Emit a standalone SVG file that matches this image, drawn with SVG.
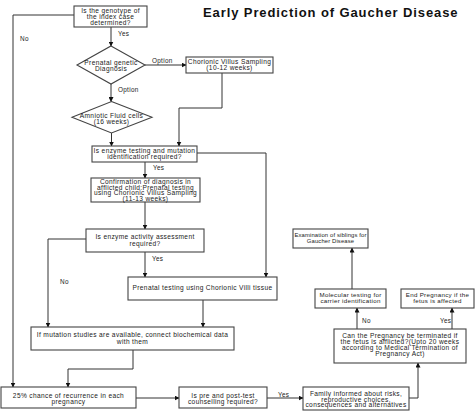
<svg xmlns="http://www.w3.org/2000/svg" width="476" height="411" viewBox="0 0 476 411">
<style>
.box{fill:#fff;stroke:#444;stroke-width:1.1}
.t{font-family:"Liberation Sans",Arial,sans-serif;font-size:6.6px;letter-spacing:0.35px;fill:#222;text-anchor:middle}
.ts{font-size:6.2px;letter-spacing:0.3px}
.tx{font-size:5.9px;letter-spacing:0.12px}
.lbl{font-family:"Liberation Sans",Arial,sans-serif;font-size:6.4px;letter-spacing:0.3px;fill:#222}
.title{font-family:"Liberation Sans",Arial,sans-serif;font-size:13px;font-weight:bold;letter-spacing:0.9px;fill:#111}
.c{fill:none;stroke:#333;stroke-width:1}
</style>
<defs>
<marker id="ah" markerWidth="5" markerHeight="5" refX="4.5" refY="2.5" orient="auto" markerUnits="userSpaceOnUse">
<path d="M0,0 L5,2.5 L0,5 Z" fill="#111"/>
</marker>
</defs>
<rect width="476" height="411" fill="#fff"/>
<text class="title" x="203" y="17">Early Prediction of Gaucher Disease</text>

<g id="connectors">
<path class="c" d="M74,15 H13 V387" marker-end="url(#ah)"/>
<path class="c" d="M111,27 V46" marker-end="url(#ah)"/>
<path class="c" d="M145,65 H186" marker-end="url(#ah)"/>
<path class="c" d="M111,84 V101.5" marker-end="url(#ah)"/>
<path class="c" d="M222,73 V108 H179 V146" marker-end="url(#ah)"/>
<path class="c" d="M111.5,133 V146" marker-end="url(#ah)"/>
<path class="c" d="M197,153 H266 V277" marker-end="url(#ah)"/>
<path class="c" d="M145,162 V178" marker-end="url(#ah)"/>
<path class="c" d="M145,202 V229" marker-end="url(#ah)"/>
<path class="c" d="M86,239 H48 V327" marker-end="url(#ah)"/>
<path class="c" d="M145,252 V277" marker-end="url(#ah)"/>
<path class="c" d="M203,300 V327" marker-end="url(#ah)"/>
<path class="c" d="M133,350 V369 H68 V387" marker-end="url(#ah)"/>
<path class="c" d="M136,398 H179" marker-end="url(#ah)"/>
<path class="c" d="M267,398 H303" marker-end="url(#ah)"/>
<path class="c" d="M409,398 H418 V363" marker-end="url(#ah)"/>
<path class="c" d="M357,329 V308" marker-end="url(#ah)"/>
<path class="c" d="M452,329 V308" marker-end="url(#ah)"/>
<path class="c" d="M352,289 V248" marker-end="url(#ah)"/>
<text class="lbl" x="20" y="41">No</text>
<text class="lbl" x="118" y="36">Yes</text>
<text class="lbl" x="152" y="63">Option</text>
<text class="lbl" x="118" y="92">Option</text>
<text class="lbl" x="153" y="170">Yes</text>
<text class="lbl" x="60" y="284">No</text>
<text class="lbl" x="152" y="261">Yes</text>
<text class="lbl" x="278" y="397">Yes</text>
<text class="lbl" x="362" y="323">No</text>
<text class="lbl" x="440" y="323">Yes</text>
</g>

<g id="genotype">
<rect class="box" x="74" y="6" width="73" height="21"/>
<text class="t" x="110.5" y="13.3">Is the genotype of</text>
<text class="t" x="110.5" y="19">the index case</text>
<text class="t" x="110.5" y="24.7">determined?</text>
</g>

<g id="prenatal-diagnosis">
<polygon class="box" points="111,46 145,65 111,84 77,65"/>
<text class="t" x="111" y="65">Prenatal genetic</text>
<text class="t" x="111" y="71.3">Diagnosis</text>
</g>

<g id="cvs">
<rect class="box" x="186" y="57" width="87" height="16"/>
<text class="t" x="229.5" y="63.8">Chorionic Villus Sampling</text>
<text class="t" x="229.5" y="69.6">(10-12 weeks)</text>
</g>

<g id="amniotic">
<polygon class="box" points="111.5,101.5 152,117.3 111.5,133 72,117.3"/>
<text class="t" x="111.5" y="117.6">Amniotic Fluid cells</text>
<text class="t" x="111.5" y="123.6">(16 weeks)</text>
</g>

<g id="enzyme-testing">
<rect class="box" x="92" y="146" width="105" height="16"/>
<text class="t" x="144.5" y="153">Is enzyme testing and mutation</text>
<text class="t" x="144.5" y="158.8">identification required?</text>
</g>

<g id="confirmation">
<rect class="box" x="91" y="178" width="109" height="24"/>
<text class="t" x="145.5" y="184">Confirmation of diagnosis in</text>
<text class="t" x="145.5" y="189.5">afflicted child:Prenatal testing</text>
<text class="t" x="145.5" y="195">using Chorionic Villus Sampling</text>
<text class="t" x="145.5" y="200.5">(11-13 weeks)</text>
</g>

<g id="enzyme-activity">
<rect class="box" x="86" y="229" width="118" height="23"/>
<text class="t" x="145" y="239">Is enzyme activity assessment</text>
<text class="t" x="145" y="245.5">required?</text>
</g>

<g id="prenatal-testing">
<rect class="box" x="128" y="277" width="149" height="23"/>
<text class="t" x="202.5" y="290">Prenatal testing using Chorionic Villi tissue</text>
</g>

<g id="mutation">
<rect class="box" x="31" y="327" width="203" height="23"/>
<text class="t" x="132.5" y="337.3">If mutation studies are available, connect biochemical data</text>
<text class="t" x="132.5" y="343.6">with them</text>
</g>

<g id="recurrence">
<rect class="box" x="1" y="387" width="135" height="21"/>
<text class="t" x="68.5" y="398">25% chance of recurrence in each</text>
<text class="t" x="68.5" y="403.8">pregnancy</text>
</g>

<g id="counselling">
<rect class="box" x="179" y="387" width="88" height="21"/>
<text class="t" x="223" y="398">Is pre and post-test</text>
<text class="t" x="223" y="403.8">counselling required?</text>
</g>

<g id="family">
<rect class="box" x="303" y="387" width="106" height="23"/>
<text class="t" x="356" y="396.3">Family informed about risks,</text>
<text class="t" x="356" y="401.8">reproductive choices,</text>
<text class="t" x="356" y="407.3">consequences and alternatives</text>
</g>

<g id="terminate">
<rect class="box" x="334" y="329" width="132" height="34"/>
<text class="t" x="400" y="338">Can the Pregnancy be terminated if</text>
<text class="t" x="400" y="344">the fetus is afflicted?(Upto 20 weeks</text>
<text class="t" x="400" y="350">according to Medical Termination of</text>
<text class="t" x="400" y="356">Pregnancy Act)</text>
</g>

<g id="molecular">
<rect class="box" x="315" y="289" width="71" height="19"/>
<text class="t ts" x="350.5" y="296.8">Molecular testing for</text>
<text class="t ts" x="350.5" y="302.8">carrier identification</text>
</g>

<g id="end-pregnancy">
<rect class="box" x="401" y="289" width="73" height="19"/>
<text class="t ts" x="437.5" y="296.8">End Pregnancy if the</text>
<text class="t ts" x="437.5" y="302.8">fetus is affected</text>
</g>

<g id="siblings">
<rect class="box" x="293" y="229" width="75" height="19"/>
<text class="t tx" x="330.5" y="237">Examination of siblings for</text>
<text class="t tx" x="330.5" y="243.3">Gaucher Disease</text>
</g>
</svg>
